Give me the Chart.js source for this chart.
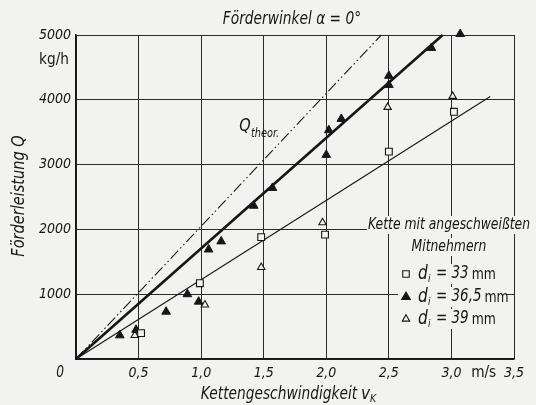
<!DOCTYPE html>
<html><head><meta charset="utf-8">
<script src="https://cdn.jsdelivr.net/npm/chart.js@4.4.1/dist/chart.umd.min.js"></script>
<style>html,body{margin:0;padding:0;background:#f2f2f0;}#wrap{width:536px;height:405px;}</style>
</head><body><div id="wrap"><canvas id="c" width="536" height="405"></canvas></div>
<script>
// ---- data ----
const xTickValues = [0, 0.5, 1, 1.5, 2, 2.5, 3, 3.5];
const xTickLabels = ['0', '0,5', '1,0', '1,5', '2,0', '2,5', '3,0', '3,5'];
const yTickValues = [0, 1000, 2000, 3000, 4000, 5000];
const yTickLabels = ['', '1000', '2000', '3000', '4000', '5000'];

const v33 = [0.52, 0.99, 1.48, 1.99, 2.50, 3.02];
const q33 = [400, 1170, 1880, 1920, 3200, 3815];
const v365 = [0.35, 0.48, 0.72, 0.89, 0.98, 1.06, 1.16, 1.42, 1.57, 2.00, 2.02, 2.12, 2.50, 2.50, 2.84, 3.07];
const q365 = [365, 450, 730, 1000, 885, 1690, 1815, 2365, 2640, 3150, 3530, 3705, 4230, 4370, 4800, 5015];
const v39 = [0.47, 1.03, 1.48, 1.97, 2.49, 3.01];
const q39 = [365, 835, 1415, 2105, 3885, 4055];

const theorV = [0, 2.44];
const theorQ = [0, 5000];
const fit365V = [0, 2.93];
const fit365Q = [0, 5000];
const fitLowV = [0, 3.31];
const fitLowQ = [0, 4050];

const legendLabels = ['33', '36,5', '39'];

// ---- styling ----
const PAPER = '#f2f2f0';
const INK = '#161616';
const FF = "'Liberation Sans Narrow', 'DejaVu Sans Condensed', 'Liberation Sans', sans-serif";
const pts = (xs, ys) => xs.map((x, i) => ({x: x, y: ys[i]}));

const openStyle = {backgroundColor: PAPER, borderColor: INK, borderWidth: 1.1};

const texts = {
  id: 'texts',
  beforeDraw(chart) {
    const c = chart.ctx;
    c.save();
    c.fillStyle = PAPER;
    c.fillRect(0, 0, chart.width, chart.height);
    c.restore();
  },
  afterDatasetsDraw(chart) {
    const c = chart.ctx;
    const xs = chart.scales.x;
    c.save();
    c.fillStyle = INK;
    c.textBaseline = 'middle';

    function font(size, italic) {
      c.font = (italic === false ? '' : 'italic ') + size + 'px ' + FF;
    }
    function txt(s, x, y, size, align, italic, sx) {
      font(size, italic);
      c.textAlign = align || 'center';
      c.save();
      c.translate(x, y);
      c.scale(sx || 1, 1);
      c.fillText(s, 0, 0);
      c.restore();
    }
    function width(s, size, italic, sx) {
      font(size, italic);
      return c.measureText(s).width * (sx || 1);
    }
    function clearBox(x0, y0, w, h) {
      c.save(); c.fillStyle = PAPER; c.fillRect(x0, y0, w, h); c.restore();
    }

    // title
    txt('Förderwinkel α = 0°', 292, 20, 17, 'center', true, 0.9);
    // unit
    txt('kg/h', 54, 60, 16, 'center', false, 0.95);
    // zero at origin
    txt('0', xs.getPixelForValue(0) - 16, 373, 15, 'center', true, 0.9);
    // m/s unit
    txt('m/s', (xs.getPixelForValue(3) + xs.getPixelForValue(3.5)) / 2 + 1, 373, 16, 'center', false, 0.95);
    // axis titles
    txt('Kettengeschwindigkeit', 279, 395, 17, 'center', true, 0.9);
    txt('v', 361, 394, 18, 'left', true, 0.95);
    txt('K', 370, 399, 11, 'left', true, 0.95);
    c.save();
    c.translate(20, 196);
    c.rotate(-Math.PI / 2);
    txt('Förderleistung Q', 0, 0, 17, 'center', true, 0.95);
    c.restore();

    // Q theor label
    txt('Q', 245, 127, 17, 'center', true, 0.95);
    txt('theor.', 251, 134, 12, 'left', true, 0.9);

    // legend
    const L1 = 'Kette mit angeschweißten', L2 = 'Mitnehmern';
    const w1 = width(L1, 16, true, 0.86);
    clearBox(449 - w1 / 2 - 1, 216, w1 + 2, 18);
    txt(L1, 449, 225, 16, 'center', true, 0.86);
    const w2 = width(L2, 16, true, 0.86);
    clearBox(449 - w2 / 2 - 1, 238, w2 + 2, 18);
    txt(L2, 449, 247, 16, 'center', true, 0.86);

    const rows = [274, 297, 319];
    const styles = [
      {style: 'rect', r: 4.6, fill: PAPER},
      {style: 'triangle', r: 5, fill: INK},
      {style: 'triangle', r: 4.3, fill: PAPER}
    ];
    rows.forEach((ry, i) => {
      clearBox(398, ry - 10, 108, 20);
      c.save();
      c.fillStyle = styles[i].fill;
      c.strokeStyle = INK;
      c.lineWidth = 1.1;
      Chart.helpers.drawPoint(c, {pointStyle: styles[i].style, radius: styles[i].r, rotation: 0, borderWidth: 1.1}, 406, ry);
      c.restore();
      c.fillStyle = INK;
      txt('d', 418, ry, 19, 'left', true, 0.9);
      txt('i', 428, ry + 5, 11, 'left', true, 0.9);
      const s = '= ' + legendLabels[i];
      txt(s, 436, ry, 17, 'left', true, 0.88);
      const w = width(s, 17, true, 0.88);
      txt('mm', 436 + w + 3, ry + 1, 15, 'left', false, 0.92);
    });
    c.restore();
  }
};

new Chart(document.getElementById('c'), {
  type: 'scatter',
  data: {
    datasets: [
      Object.assign({label: 'di = 33 mm', data: pts(v33, q33), pointStyle: 'rect', pointRadius: 4.8}, openStyle),
      {label: 'di = 36,5 mm', data: pts(v365, q365), pointStyle: 'triangle', pointRadius: 5,
        backgroundColor: INK, borderColor: INK, borderWidth: 1},
      Object.assign({label: 'di = 39 mm', data: pts(v39, q39), pointStyle: 'triangle', pointRadius: 4.3}, openStyle),
      {label: 'Q theor', data: pts(theorV, theorQ), showLine: true, pointRadius: 0,
        borderColor: INK, borderWidth: 1.1, borderDash: [11, 3, 1.5, 3, 1.5, 3]},
      {label: 'fit 36,5', data: pts(fit365V, fit365Q), showLine: true, pointRadius: 0,
        borderColor: INK, borderWidth: 2.6},
      {label: 'fit 33/39', data: pts(fitLowV, fitLowQ), showLine: true, pointRadius: 0,
        borderColor: INK, borderWidth: 1.1}
    ]
  },
  options: {
    responsive: false,
    animation: false,
    devicePixelRatio: 1,
    clip: false,
    layout: {padding: {top: 35, right: 22, left: 0, bottom: 0}},
    plugins: {legend: {display: false}, tooltip: {enabled: false}, title: {display: false}},
    scales: {
      x: {
        type: 'linear', min: 0, max: 3.5,
        afterBuildTicks: s => { s.ticks = xTickValues.map(v => ({value: v})); },
        afterFit: s => { s.height = 46; },
        ticks: {
          autoSkip: false, maxRotation: 0, padding: 6, color: INK,
          font: {family: FF, size: 14, style: 'italic'},
          callback: v => { const i = xTickValues.indexOf(v); return (i <= 0) ? '' : xTickLabels[i]; }
        },
        grid: {color: '#2b2b2b', lineWidth: 1, drawTicks: false},
        border: {display: true, color: INK, width: 1.6}
      },
      y: {
        type: 'linear', min: 0, max: 5000,
        afterBuildTicks: s => { s.ticks = yTickValues.map(v => ({value: v})); },
        afterFit: s => { s.width = 76; },
        ticks: {
          autoSkip: false, padding: 5, color: INK,
          font: {family: FF, size: 14, style: 'italic'},
          callback: v => { const i = yTickValues.indexOf(v); return i < 0 ? '' : yTickLabels[i]; }
        },
        grid: {color: '#2b2b2b', lineWidth: 1, drawTicks: false},
        border: {display: true, color: INK, width: 1.6}
      }
    }
  },
  plugins: [texts]
});
</script>
</body></html>
